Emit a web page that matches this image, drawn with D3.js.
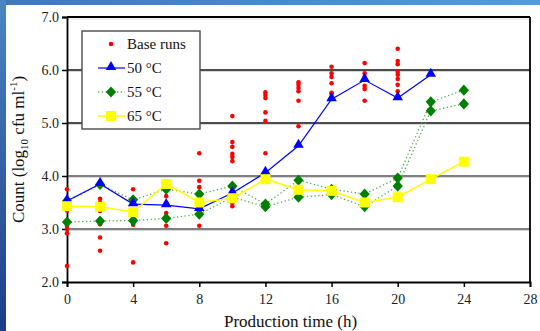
<!DOCTYPE html>
<html>
<head>
<meta charset="utf-8">
<script src="https://cdn.jsdelivr.net/npm/d3@7"></script>
<style>
  body { margin: 0; background: #fff; }
  svg { display: block; font-family: "Liberation Serif", "Times New Roman", serif; }
</style>
</head>
<body>
<div id="chart"></div>
<script>
// chart values
let hours = [0, 2, 4, 6, 8, 10, 12, 14, 16, 18, 20, 22, 24];
let xTicks = [0, 4, 8, 12, 16, 20, 24, 28];
let yTicks = [2, 3, 4, 5, 6, 7];

let run50 = [3.53, 3.85, 3.47, 3.45, 3.38, 3.68, 4.06, 4.57, 5.45, 5.81, 5.47, 5.91];
let run55a = [3.53, 3.84, 3.55, 3.75, 3.66, 3.81, 3.47, 3.92, 3.75, 3.66, 3.96, 5.4, 5.62];
let run55b = [3.13, 3.15, 3.16, 3.2, 3.28, 3.6, 3.42, 3.6, 3.65, 3.42, 3.81, 5.23, 5.36];
let run65 = [3.43, 3.42, 3.32, 3.85, 3.5, 3.58, 3.94, 3.74, 3.72, 3.5, 3.6, 3.94, 4.27];

// base runs: [hour, count]
let baseRuns = [
  [0, 3.75], [0, 3.5], [0, 3.35], [0, 3.06], [0, 3.0], [0, 2.92], [0, 2.3],
  [2, 3.57], [2, 3.5], [2, 3.34], [2, 3.09], [2, 2.84], [2, 2.59],
  [4, 3.75], [4, 3.5], [4, 3.11], [4, 3.08], [4, 2.37],
  [6, 3.62], [6, 3.49], [6, 3.3], [6, 3.17], [6, 3.06], [6, 2.73],
  [8, 4.43], [8, 3.91], [8, 3.79], [8, 3.5], [8, 3.06],
  [10, 5.13], [10, 4.64], [10, 4.55], [10, 4.42], [10, 4.36], [10, 4.28], [10, 3.49], [10, 3.43],
  [12, 5.58], [12, 5.53], [12, 5.47], [12, 5.2], [12, 5.04], [12, 4.43],
  [14, 5.77], [14, 5.72], [14, 5.66], [14, 5.6], [14, 5.42], [14, 4.94],
  [16, 6.06], [16, 5.94], [16, 5.87], [16, 5.75], [16, 5.57], [16, 5.55],
  [18, 6.13], [18, 5.94], [18, 5.87], [18, 5.7], [18, 5.64], [18, 5.42],
  [20, 6.4], [20, 6.17], [20, 6.11], [20, 5.96], [20, 5.91], [20, 5.83], [20, 5.72], [20, 5.6]
];

let svgWidth = 540;
let svgHeight = 331;
let margin = { top: 17, right: 10, bottom: 49, left: 67 };
let width = 530 - margin.left;
let height = 282 - margin.top;

let svg = d3.select("#chart")
  .append("svg")
  .attr("width", svgWidth)
  .attr("height", svgHeight);

// slide background strips (blue)
let defs = svg.append("defs");
let gTop = defs.append("linearGradient").attr("id", "gTop");
gTop.append("stop").attr("offset", "0%").attr("stop-color", "#3f78b8");
gTop.append("stop").attr("offset", "100%").attr("stop-color", "#5b9ad0");
let gLeft = defs.append("linearGradient").attr("id", "gLeft")
  .attr("x1", 0).attr("x2", 0).attr("y1", 0).attr("y2", 1);
gLeft.append("stop").attr("offset", "0%").attr("stop-color", "#4a86c2");
gLeft.append("stop").attr("offset", "100%").attr("stop-color", "#1f3c86");
svg.append("rect").attr("x", 0).attr("y", 0).attr("width", svgWidth).attr("height", 5).attr("fill", "url(#gTop)");
svg.append("rect").attr("x", 0).attr("y", 0).attr("width", 6).attr("height", svgHeight).attr("fill", "url(#gLeft)");

let chartGroup = svg.append("g")
  .attr("transform", `translate(${margin.left}, ${margin.top})`);

let x = d3.scaleLinear().domain([0, 28]).range([0, width]);
let y = d3.scaleLinear().domain([2, 7]).range([height, 0]);

// gridlines
[3, 4, 5, 6].forEach(v => {
  chartGroup.append("line")
    .attr("x1", 0).attr("x2", width)
    .attr("y1", y(v) + 1.5).attr("y2", y(v) + 1.5)
    .attr("stroke", "#d8d8d8").attr("stroke-width", 1);
  chartGroup.append("line")
    .attr("x1", 0).attr("x2", width)
    .attr("y1", y(v)).attr("y2", y(v))
    .attr("stroke", v >= 5 ? "#111" : "#555").attr("stroke-width", 1.5);
});

// top and right frame
chartGroup.append("line")
  .attr("x1", 0).attr("x2", width).attr("y1", y(7) + 2).attr("y2", y(7) + 2)
  .attr("stroke", "#ddd").attr("stroke-width", 1);
chartGroup.append("line")
  .attr("x1", 0).attr("x2", width).attr("y1", y(7)).attr("y2", y(7))
  .attr("stroke", "#000").attr("stroke-width", 1.8);
chartGroup.append("line")
  .attr("x1", width).attr("x2", width).attr("y1", 0).attr("y2", height)
  .attr("stroke", "#000").attr("stroke-width", 1.8);

// axes
let bottomAxis = d3.axisBottom(x).tickValues(xTicks).tickSize(5).tickPadding(7).tickFormat(d3.format("d"));
let leftAxis = d3.axisLeft(y).tickValues(yTicks).tickSize(5).tickPadding(3).tickFormat(d3.format(".1f"));

let xAxis = chartGroup.append("g")
  .attr("transform", `translate(0, ${height})`)
  .call(bottomAxis);
let yAxis = chartGroup.append("g").call(leftAxis);

[xAxis, yAxis].forEach(a => {
  a.select(".domain").attr("stroke", "#000").attr("stroke-width", 1.8);
  a.selectAll(".tick line").attr("stroke", "#000").attr("stroke-width", 1.5);
  a.selectAll("text")
    .attr("font-family", "Liberation Serif, Times New Roman, serif")
    .attr("font-size", 14).attr("fill", "#222");
});

// axis titles
chartGroup.append("text")
  .attr("x", width / 2 - 8).attr("y", height + 45)
  .attr("text-anchor", "middle")
  .attr("font-size", 17).attr("fill", "#111")
  .text("Production time (h)");

let yLabel = chartGroup.append("text")
  .attr("transform", `translate(-43, ${height / 2}) rotate(-90)`)
  .attr("text-anchor", "middle")
  .attr("font-size", 17).attr("fill", "#111");
yLabel.append("tspan").text("Count (log");
yLabel.append("tspan").attr("font-size", 11).attr("dy", 4).text("10");
yLabel.append("tspan").attr("dy", -4).text(" cfu ml");
yLabel.append("tspan").attr("font-size", 11).attr("dy", -7).text("-1");
yLabel.append("tspan").attr("dy", 7).text(")");

// symbols
let tri = d3.symbol().type(d3.symbolTriangle).size(48);
let sq = d3.symbol().type(d3.symbolSquare).size(100);
let dia = d3.symbol().type(d3.symbolSquare).size(52);
let diaTf = (px, py) => `translate(${px}, ${py}) scale(1, 1.1) rotate(45)`;

let line = d3.line().x(d => x(d[0])).y(d => y(d[1]));
let pairs = vals => vals.map((v, i) => [hours[i], v]);

// base runs
chartGroup.append("g").selectAll("circle")
  .data(baseRuns)
  .enter()
  .append("circle")
  .attr("cx", d => x(d[0]))
  .attr("cy", d => y(d[1]))
  .attr("r", 2.3)
  .attr("fill", "#ff0000");

// 55 C runs (dotted green)
[run55a, run55b].forEach(vals => {
  chartGroup.append("path")
    .datum(pairs(vals))
    .attr("d", line)
    .attr("fill", "none")
    .attr("stroke", "#4caf50")
    .attr("stroke-width", 1.3)
    .attr("stroke-dasharray", "1.3,2.5");
});

// 50 C
chartGroup.append("path")
  .datum(pairs(run50))
  .attr("d", line)
  .attr("fill", "none")
  .attr("stroke", "#0000ff")
  .attr("stroke-width", 1.2);

// 65 C
chartGroup.append("path")
  .datum(pairs(run65))
  .attr("d", line)
  .attr("fill", "none")
  .attr("stroke", "#ffff00")
  .attr("stroke-width", 1.5);

[run55a, run55b].forEach(vals => {
  chartGroup.append("g").selectAll("path")
    .data(pairs(vals))
    .enter()
    .append("path")
    .attr("d", dia)
    .attr("transform", d => diaTf(x(d[0]), y(d[1])))
    .attr("fill", "#008000");
});

chartGroup.append("g").selectAll("path")
  .data(pairs(run50))
  .enter()
  .append("path")
  .attr("d", tri)
  .attr("transform", d => `translate(${x(d[0])}, ${y(d[1]) - 1})`)
  .attr("fill", "#0000ff");

chartGroup.append("g").selectAll("path")
  .data(pairs(run65))
  .enter()
  .append("path")
  .attr("d", sq)
  .attr("transform", d => `translate(${x(d[0])}, ${y(d[1])})`)
  .attr("fill", "#ffff00");

// legend
let legend = svg.append("g").attr("transform", "translate(82, 31)");
legend.append("rect")
  .attr("x", 0).attr("y", 0).attr("width", 118).attr("height", 98)
  .attr("fill", "#fff").attr("stroke", "#555").attr("stroke-width", 1.5);

let legendItems = [
  { label: "Base runs", kind: "dot" },
  { label: "50 \u00B0C", kind: "tri" },
  { label: "55 \u00B0C", kind: "dia" },
  { label: "65 \u00B0C", kind: "sq" }
];

legendItems.forEach((item, i) => {
  let ly = 13 + i * 24;
  let g = legend.append("g").attr("transform", `translate(0, ${ly})`);
  if (item.kind === "dot") {
    g.append("circle").attr("cx", 29).attr("cy", 0).attr("r", 2.3).attr("fill", "#ff0000");
  } else if (item.kind === "tri") {
    g.append("line").attr("x1", 16).attr("x2", 43).attr("stroke", "#0000ff").attr("stroke-width", 1.2);
    g.append("path").attr("d", tri).attr("transform", "translate(29, -1)").attr("fill", "#0000ff");
  } else if (item.kind === "dia") {
    g.append("line").attr("x1", 16).attr("x2", 43).attr("stroke", "#4caf50")
      .attr("stroke-width", 1.3).attr("stroke-dasharray", "1.3,2.5");
    g.append("path").attr("d", dia).attr("transform", diaTf(29, 0)).attr("fill", "#008000");
  } else {
    g.append("line").attr("x1", 16).attr("x2", 43).attr("stroke", "#ffff00").attr("stroke-width", 1.5);
    g.append("path").attr("d", sq).attr("transform", "translate(29, 0)").attr("fill", "#ffff00");
  }
  g.append("text")
    .attr("x", 45).attr("y", 5)
    .attr("font-size", 15).attr("fill", "#111")
    .text(item.label);
});
</script>
</body>
</html>
